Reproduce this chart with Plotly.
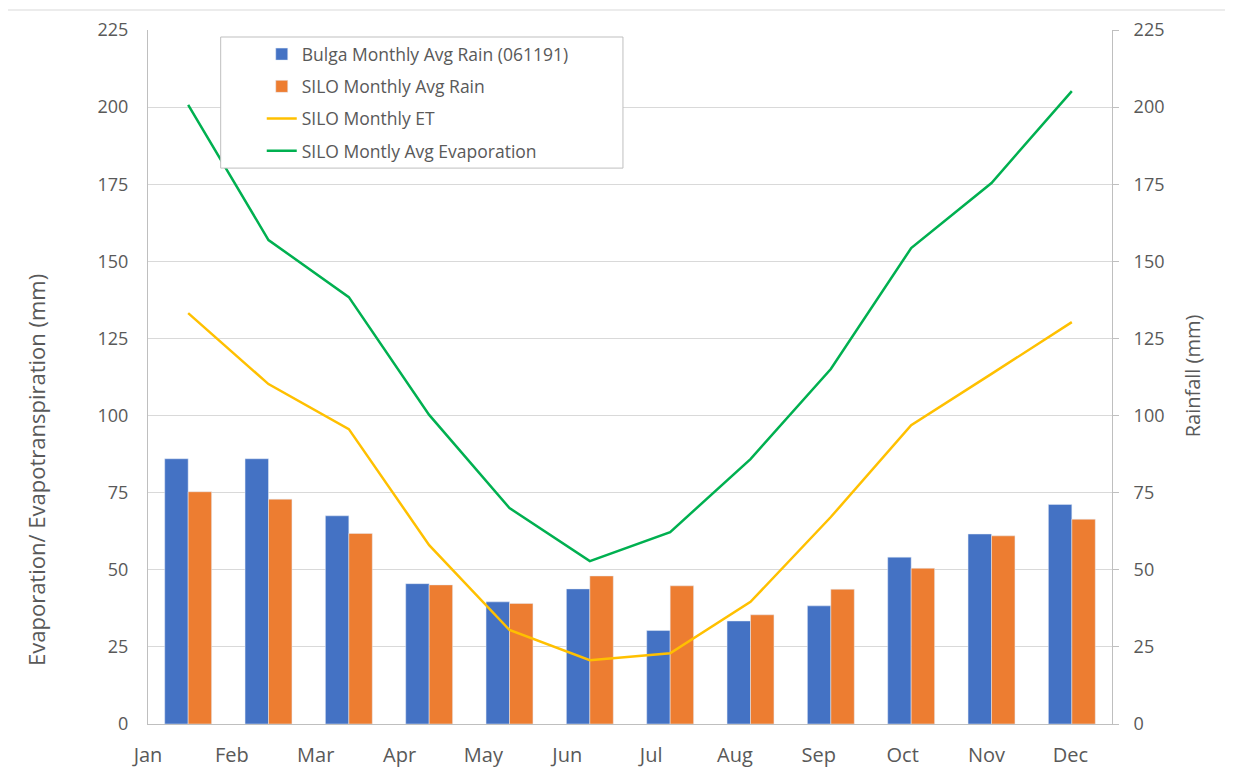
import plotly.graph_objects as go

months = ["Jan", "Feb", "Mar", "Apr", "May", "Jun", "Jul", "Aug", "Sep", "Oct", "Nov", "Dec"]
bulga_rain = [86.0, 86.0, 67.5, 45.5, 39.6, 43.8, 30.3, 33.4, 38.3, 54.1, 61.6, 71.2]
silo_rain = [75.3, 72.9, 61.8, 45.1, 39.1, 48.0, 44.8, 35.4, 43.7, 50.5, 61.0, 66.4]
silo_et = [133.2, 110.2, 95.6, 58.0, 30.5, 20.7, 22.9, 39.6, 67.1, 96.9, 113.5, 130.3]
silo_evap = [200.7, 156.9, 138.4, 100.2, 70.0, 52.8, 62.2, 85.9, 115.1, 154.3, 175.4, 205.2]
y_ticks = [0, 25, 50, 75, 100, 125, 150, 175, 200, 225]

grey_txt = "#595959"
font = "Open Sans"

fig = go.Figure()
# rainfall bars on the main (right side) axis, lines on the overlaid left axis so they draw on top
fig.add_trace(go.Bar(x=months, y=bulga_rain, name="Bulga Monthly Avg Rain (061191)",
                     marker_color="#4472C4", yaxis="y", legendgroup="a"))
fig.add_trace(go.Bar(x=months, y=silo_rain, name="SILO Monthly Avg Rain",
                     marker_color="#ED7D31", yaxis="y", legendgroup="b"))
fig.add_trace(go.Scatter(x=months, y=silo_et, name="SILO Monthly ET", mode="lines",
                         line=dict(color="#FFC000", width=2.5), yaxis="y2", legendgroup="c"))
fig.add_trace(go.Scatter(x=months, y=silo_evap, name="SILO Montly Avg Evaporation", mode="lines",
                         line=dict(color="#00B050", width=2.5), yaxis="y2", legendgroup="d"))
# empty trace so the month label axis gets drawn
fig.add_trace(go.Scatter(x=[], y=[], xaxis="x2", showlegend=False, hoverinfo="skip"))

# page body has an 8px margin, so the figure is drawn 8px in from the corner
fig.update_layout(
    width=1225, height=763,
    margin=dict(l=140, r=121, t=22, b=47),
    plot_bgcolor="white", paper_bgcolor="white",
    font=dict(family=font, color=grey_txt),
    barmode="group", bargap=0.416, bargroupgap=0,
    showlegend=True,
    legend=dict(x=0.118, y=0.991, xanchor="left", yanchor="top",
                bgcolor="rgba(0,0,0,0)", borderwidth=0,
                font=dict(size=17.5, color=grey_txt), tracegroupgap=6.5,
                traceorder="grouped"),
    xaxis=dict(type="category", range=[-0.5, 11.5], showticklabels=False,
               showgrid=False, showline=True, linecolor="#bfbfbf", linewidth=1,
               ticks="", zeroline=False, automargin=False),
    xaxis2=dict(overlaying="x", anchor="y", side="bottom", range=[0, 964 / 83.85],
                tickmode="array", tickvals=list(range(12)), ticktext=months,
                showgrid=False, showline=False, zeroline=False, ticks="",
                ticklabelstandoff=17, tickfont=dict(size=20, color=grey_txt),
                automargin=False),
    yaxis=dict(range=[0, 225], tickvals=y_ticks, side="right", showgrid=True, gridcolor="#d9d9d9",
               showline=True, linecolor="#bfbfbf", zeroline=False,
               ticks="outside", ticklen=6, tickcolor="#bfbfbf",
               ticklabelstandoff=11, tickfont=dict(size=18, color=grey_txt),
               automargin=False),
    yaxis2=dict(range=[0, 225], tickvals=y_ticks, overlaying="y", side="left",
                showgrid=False, showline=True, linecolor="#bfbfbf", zeroline=False, ticks="",
                ticklabelstandoff=15, tickfont=dict(size=18, color=grey_txt),
                automargin=False),
)

# legend frame
fig.add_shape(type="rect", xref="paper", yref="paper", x0=0.0754, x1=0.4927, y0=0.801, y1=0.9899,
              line=dict(color="#bfbfbf", width=1), fillcolor="white", layer="above")
# outer chart frame
fig.add_shape(type="rect", xref="paper", yref="paper", x0=-0.1463, x1=1.2, y0=-0.2, y1=1.0288,
              line=dict(color="#d9d9d9", width=1), layer="below")

fig.add_annotation(text="Evaporation/ Evapotranspiration (mm)", xref="paper", yref="paper",
                   x=-0.1162, y=0.366, xanchor="center", yanchor="middle",
                   textangle=-90, showarrow=False, font=dict(size=22, color=grey_txt))
fig.add_annotation(text="Rainfall (mm)", xref="paper", yref="paper",
                   x=1.083, y=0.501, xanchor="center", yanchor="middle",
                   textangle=-90, showarrow=False, font=dict(size=20, color=grey_txt))

fig.write_html("out.html")
